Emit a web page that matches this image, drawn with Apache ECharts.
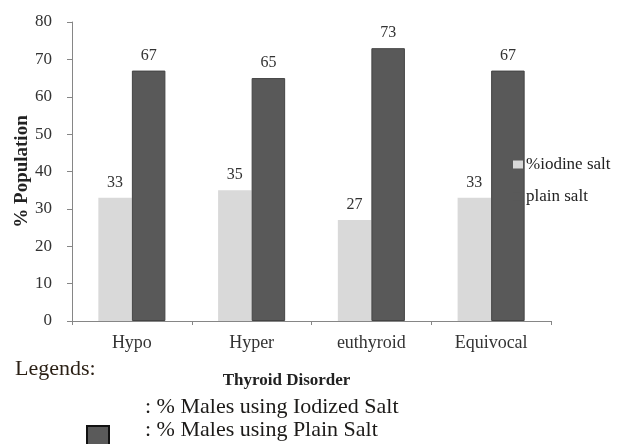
<!DOCTYPE html>
<html>
<head>
<meta charset="utf-8">
<script src="https://cdn.jsdelivr.net/npm/echarts@6/dist/echarts.min.js"></script>
<style>
  html, body { margin: 0; padding: 0; background: #fff; }
  #chart { width: 619px; height: 444px; }
</style>
</head>
<body>
<div id="chart"></div>
<script>
// Thyroid disorder categories and the share using each salt type
const categories = ['Hypo', 'Hyper', 'euthyroid', 'Equivocal'];
const iodineSalt = [33, 35, 27, 33];
const plainSalt = [67, 65, 73, 67];
const yTicks = { min: 0, max: 80, interval: 10 };

const serif = '"Liberation Serif", "Times New Roman", serif';
const chart = echarts.init(document.getElementById('chart'));

const valueLabel = {
  show: true, position: 'top', distance: 7,
  fontFamily: serif, fontSize: 16, color: '#333'
};

chart.setOption({
  backgroundColor: '#fff',
  animation: false,
  textStyle: { fontFamily: serif },
  grid: { left: 72, right: 68, top: 22, bottom: 123 },
  legend: {
    orient: 'vertical',
    left: 513,
    top: 156,
    padding: 0,
    itemWidth: 10,
    itemHeight: 8,
    itemGap: 15,
    icon: 'rect',
    itemStyle: { borderWidth: 0 },
    textStyle: { fontFamily: serif, fontSize: 17, color: '#222', padding: [0, 0, 0, -2] },
    data: ['%iodine salt', 'plain salt']
  },
  xAxis: {
    type: 'category',
    data: categories,
    name: 'Thyroid Disorder',
    nameLocation: 'middle',
    nameGap: 51,
    nameMoveOverlap: false,
    nameTextStyle: { fontFamily: serif, fontSize: 17, fontWeight: 'bold', color: '#222', padding: [0, 50, 0, 0] },
    axisLine: { lineStyle: { color: '#868686' } },
    axisTick: { show: true, length: 4, lineStyle: { color: '#868686' } },
    axisLabel: { fontFamily: serif, fontSize: 18, color: '#333', margin: 13 }
  },
  yAxis: {
    type: 'value',
    min: yTicks.min,
    max: yTicks.max,
    interval: yTicks.interval,
    name: '% Population',
    nameLocation: 'middle',
    nameGap: 40,
    nameMoveOverlap: false,
    nameRotate: 90,
    nameTextStyle: { fontFamily: serif, fontSize: 19, fontWeight: 'bold', color: '#222' },
    splitLine: { show: false },
    axisLine: { show: true, lineStyle: { color: '#868686' } },
    axisTick: { show: true, length: 5, lineStyle: { color: '#868686' } },
    axisLabel: { fontFamily: serif, fontSize: 17, color: '#333', margin: 20 }
  },
  series: [
    {
      name: '%iodine salt',
      type: 'bar',
      data: iodineSalt,
      barGap: '0%',
      barCategoryGap: '44%',
      itemStyle: { color: '#d9d9d9' },
      label: valueLabel
    },
    {
      name: 'plain salt',
      type: 'bar',
      data: plainSalt,
      itemStyle: { color: '#595959', borderColor: '#444', borderWidth: 1 },
      label: valueLabel
    }
  ],
  graphic: [
    { type: 'text', left: 15, top: 358, style: { text: 'Legends:', font: '22px ' + serif, fill: '#2a1f14' } },
    { type: 'text', left: 145, top: 396, style: { text: ': % Males using Iodized Salt', font: '22px ' + serif, fill: '#1c1a18' } },
    { type: 'text', left: 145, top: 419, style: { text: ': % Males using Plain Salt', font: '22px ' + serif, fill: '#1c1a18' } },
    { type: 'rect', left: 86, top: 425, shape: { width: 22, height: 22 }, style: { fill: '#5a5a5a', stroke: '#111', lineWidth: 2 } }
  ]
});
</script>
</body>
</html>
